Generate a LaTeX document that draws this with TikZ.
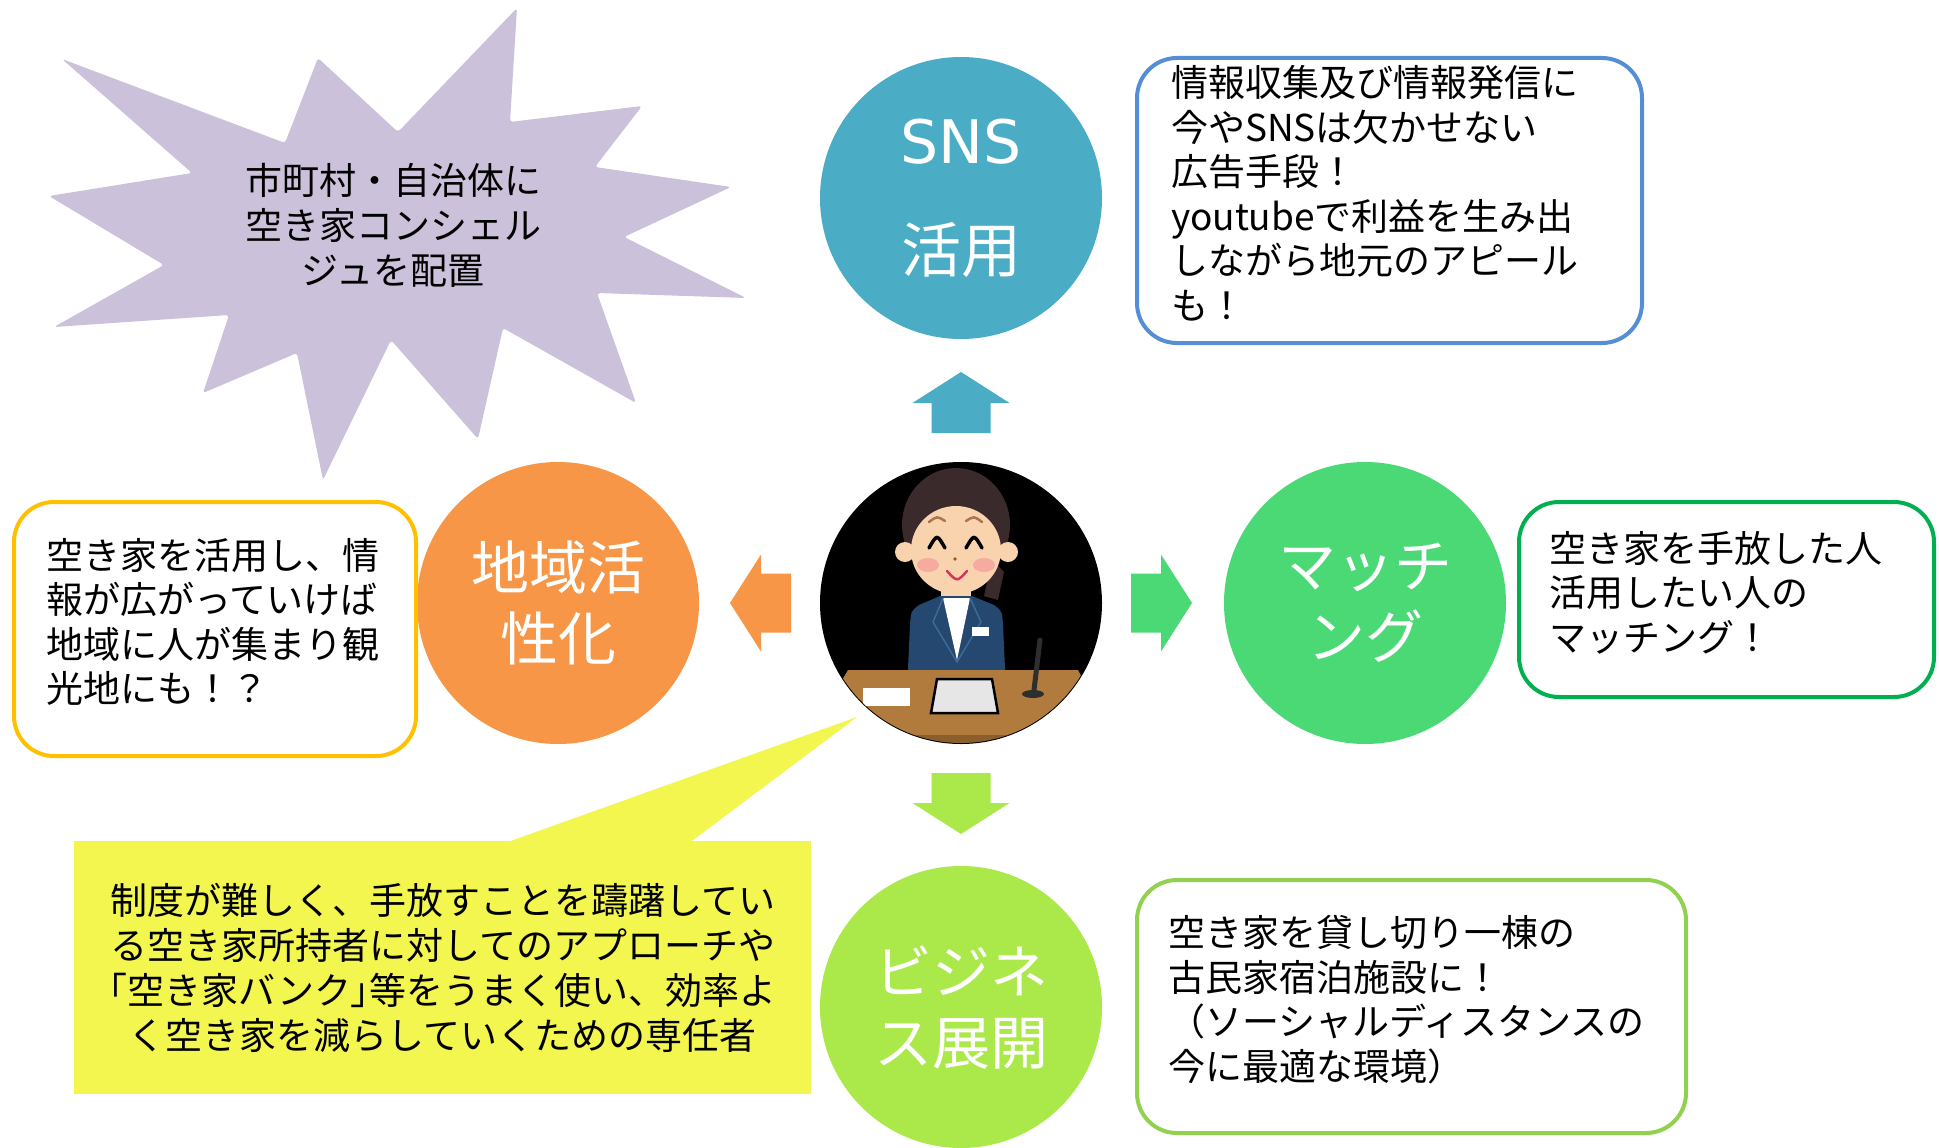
\documentclass[tikz,border=0pt]{standalone}
\usepackage{fontspec}
\setmainfont{Noto Sans CJK JP}
\newfontfamily\snsfont{DejaVu Sans}
\newcommand\halfkakko[1]{{\addfontfeatures{RawFeature=+palt}#1}}
\usetikzlibrary{calc}

\definecolor{starlilac}{HTML}{CCC1DA}
\definecolor{snsblue}{HTML}{4BACC6}
\definecolor{localorange}{HTML}{F79646}
\definecolor{matchgreen}{HTML}{4AD975}
\definecolor{bizgreen}{HTML}{ABE84A}
\definecolor{memoblue}{HTML}{558ED5}
\definecolor{memogold}{HTML}{FFC000}
\definecolor{memogreen}{HTML}{00B050}
\definecolor{memolime}{HTML}{92D050}
\definecolor{notice}{HTML}{F4F650}
\definecolor{hair}{HTML}{3A2A2C}
\definecolor{skin}{HTML}{F9D3AE}
\definecolor{blush}{HTML}{F6ABA0}
\definecolor{brow}{HTML}{A87650}
\definecolor{lips}{HTML}{D2385A}
\definecolor{suit}{HTML}{24486F}
\definecolor{suitline}{HTML}{3D6A96}
\definecolor{desk}{HTML}{B27B3E}
\definecolor{deskedge}{HTML}{8C5E2C}
\definecolor{paper}{HTML}{E6E6E6}
\definecolor{mic}{HTML}{2E2E2E}

\begin{document}
\begin{tikzpicture}[x=1pt, y=-1pt,
  bubble/.style={circle, minimum size=282pt, inner sep=0pt, text=white,
    align=center, font=\fontsize{58}{71}\selectfont},
  memo/.style={draw, line width=4pt, rounded corners=40pt, fill=white,
    anchor=north west, align=left, font=\fontsize{37}{44.5}\selectfont,
    execute at end node=\vspace*{14pt}}]
\useasboundingbox (0,0) rectangle (1939,1148);
\fill[white] (0,0) rectangle (1939,1148);

% burst with the concierge idea
\fill[starlilac, rounded corners=3pt] (318,58) -- (398,132) -- (517,8) -- (510,122)
  -- (642,106) -- (595,167) -- (731,187) -- (624,237) -- (746,298) -- (597,293)
  -- (636,403) -- (503,328) -- (478,439) -- (391,340) -- (323,480) -- (297,353)
  -- (203,393) -- (229,315) -- (54,327) -- (164,265) -- (49,196) -- (192,173)
  -- (62,59) -- (285,143) -- cycle;
\node[align=center, font=\fontsize{37}{45}\selectfont] (concierge) at (393,225)
  {市町村・自治体に\\空き家コンシェル\\ジュを配置};

% yellow callout
\coordinate (pin) at (857,717);
\node[fill=notice, minimum width=737pt, minimum height=253pt, inner sep=0pt,
  anchor=north west, align=center, font=\fontsize{37}{45}\selectfont,
  execute at end node=\vspace*{10pt}] (advice) at (74,841)
  {制度が難しく、手放すことを躊躇してい\\る空き家所持者に対してのアプローチや\\\halfkakko{「}空き家バンク\halfkakko{」}等をうまく使い、効率よ\\く空き家を減らしていくための専任者};
\fill[notice] (505,843) -- (pin) -- (689,843) -- cycle;

% four themes round the presenter
\node[bubble, fill=snsblue, font=\fontsize{60}{109}\selectfont,
  execute at end node=\vspace*{12pt}] (sns) at (961,198)
  {{\snsfont SNS}\\活用};
\node[bubble, fill=localorange] (local) at (558,603) {地域活\\性化};
\node[bubble, fill=matchgreen] (match) at (1365,603) {マッチ\\ング};
\node[bubble, fill=bizgreen] (biz) at (961,1007) {ビジネ\\ス展開};

% the presenter
\node[circle, fill=black, minimum size=282pt, inner sep=0pt] (person) at (961,603) {};
\begin{scope}
  \clip (961,603) circle (140);
  \fill[hair] (956,525) ellipse [x radius=54, y radius=57];
  \fill[hair] (992,560) -- (1004,572) -- (998,600) -- (984,596) -- cycle;
  \fill[skin] (941,585) rectangle (971,606);
  \fill[skin] (905,552) circle (10) (1008,552) circle (10);
  \fill[skin] (956,550) ellipse [x radius=45, y radius=44];
  \fill[blush] (928,565) ellipse [x radius=11, y radius=7];
  \fill[blush] (984,565) ellipse [x radius=11, y radius=7];
  \draw[brow, line width=2.5pt, line cap=round] (929,522) .. controls (937,516) .. (945,521);
  \draw[brow, line width=2.5pt, line cap=round] (966,521) .. controls (974,516) .. (982,522);
  \draw[black, line width=3.5pt, line cap=round] (929,548) .. controls (937,534) .. (945,548);
  \draw[black, line width=3.5pt, line cap=round] (966,548) .. controls (974,534) .. (982,548);
  \fill[deskedge] (955,559) circle (1.8);
  \draw[lips, line width=2.5pt, line cap=round] (947,571) .. controls (957,582) .. (967,571);
  % suit, shirt and badge
  \fill[suit] (940,596) -- (919,605) .. controls (911,611) .. (910,625) -- (907,690)
    -- (1006,690) -- (1003,625) .. controls (1002,611) .. (994,605) -- (972,596) -- cycle;
  \fill[white] (943,598) -- (970,598) -- (957,660) -- cycle;
  \draw[suitline, line width=1.5pt] (943,598) -- (933,622) -- (957,662) -- (981,622) -- (970,598);
  \fill[white] (972,627) rectangle (989,636);
  % desk with papers and microphone
  \fill[desk] (848,670) -- (1078,670) -- (1112,735) -- (810,735) -- cycle;
  \fill[deskedge] (810,735) rectangle (1112,760);
  \fill[white] (863,688) rectangle (910,706);
  \filldraw[fill=paper, draw=black, line width=2.5pt] (937,679) -- (992,679) -- (998,713)
    -- (931,713) -- cycle;
  \draw[mic, line width=5pt, line cap=round] (1040,640) -- (1034,690);
  \fill[mic] (1033,694) ellipse [x radius=11, y radius=4];
\end{scope}

% block arrows out of the presenter
\foreach \ang/\col in {90/snsblue, 180/localorange, 0/matchgreen, 270/bizgreen} {
  \fill[\col, shift={(person.center)}, rotate=\ang] (170,-29.5) -- (200,-29.5)
    -- (200,-48.5) -- (231,0) -- (200,48.5) -- (200,29.5) -- (170,29.5) -- cycle;
}

% memo boxes
\node[memo, draw=memoblue, minimum width=505pt, minimum height=285pt, inner xsep=34pt,
  text width=437pt] (snsmemo) at (1135,56)
  {情報収集及び情報発信に\\今やSNSは欠かせない\\広告手段！\\youtubeで利益を生み出\\しながら地元のアピール\\も！};
\node[memo, draw=memogold, minimum width=402pt, minimum height=254pt, inner xsep=32pt,
  text width=338pt] (localmemo) at (12,500)
  {空き家を活用し、情\\報が広がっていけば\\地域に人が集まり観\\光地にも！？};
\node[memo, draw=memogreen, minimum width=415pt, minimum height=195pt, inner xsep=30pt,
  text width=355pt] (matchmemo) at (1517,500)
  {空き家を手放した人\\活用したい人の\\マッチング！};
\node[memo, draw=memolime, minimum width=549pt, minimum height=253pt, inner xsep=31pt,
  text width=487pt] (bizmemo) at (1135,878)
  {空き家を貸し切り一棟の\\古民家宿泊施設に！\\（ソーシャルディスタンスの\\今に最適な環境）};
\end{tikzpicture}
\end{document}
